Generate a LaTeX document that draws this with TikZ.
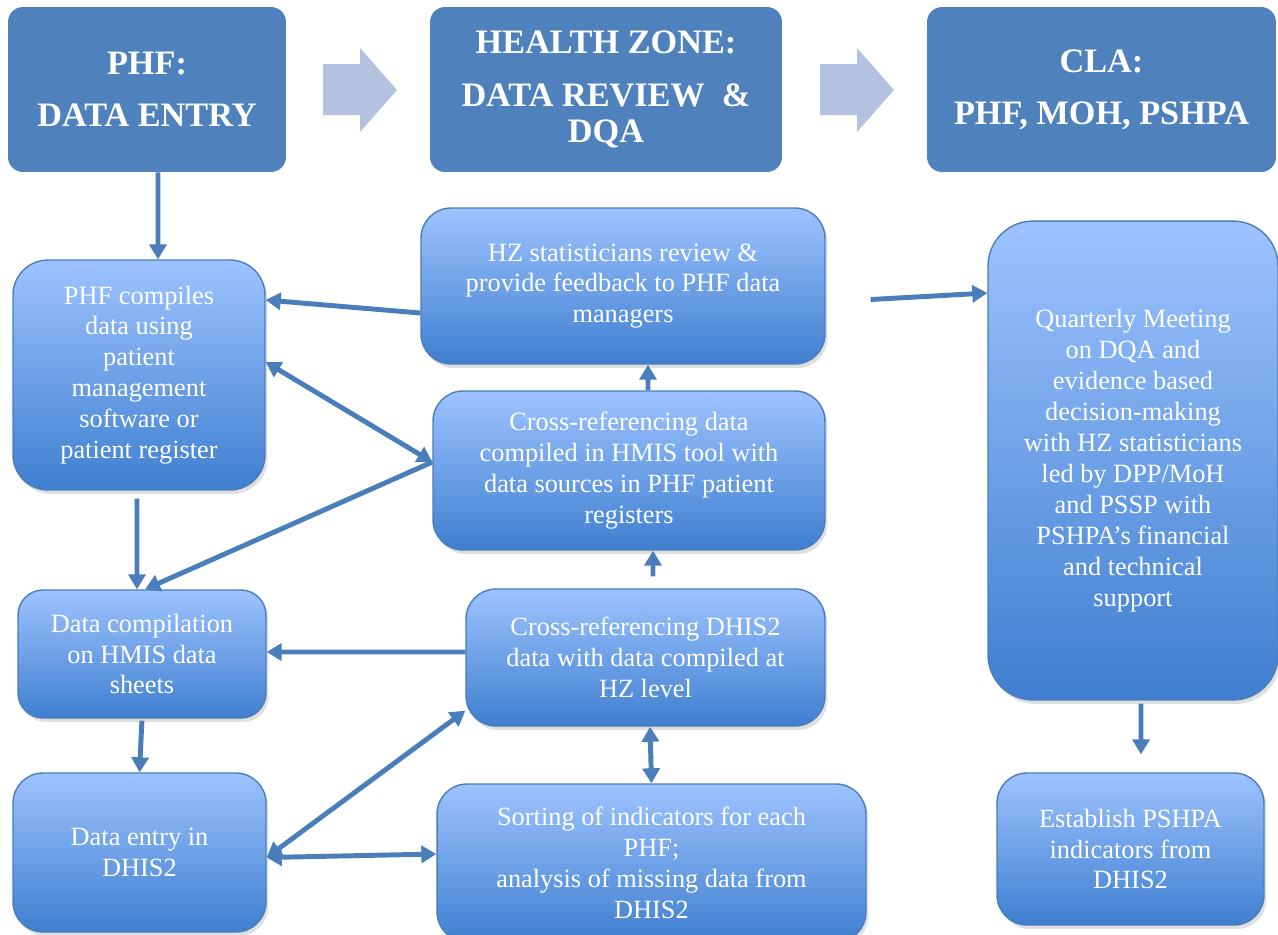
\documentclass[tikz,border=0pt]{standalone}
\usepackage{fontspec}
\setmainfont{Liberation Serif}
\usetikzlibrary{positioning,calc,arrows.meta,shadows}
\definecolor{HeadBlue}{HTML}{4F81BD}
\definecolor{ChevBlue}{HTML}{B3C3DF}
\definecolor{BoxTop}{HTML}{9DC3FF}
\definecolor{BoxBottom}{HTML}{3F7FCF}
\definecolor{BoxLine}{HTML}{4A7EBB}
\definecolor{LinkBlue}{HTML}{4A7EBB}

\begin{document}
\begin{tikzpicture}[x=0.02cm,y=-0.02cm,
    headbox/.style={rounded corners=0.3cm, fill=HeadBlue, text=white, align=center,
      font=\fontsize{19.5}{20.5}\selectfont\bfseries, minimum height=3.3cm},
    stepbox/.style={rounded corners=0.6cm, draw=BoxLine, line width=0.8pt,
      top color=BoxTop, bottom color=BoxBottom, text=white, align=center,
      font=\fontsize{15}{17.6}\selectfont,
      drop shadow={shadow xshift=0.05cm, shadow yshift=-0.08cm, opacity=0.25}},
    link/.style={LinkBlue, line width=2.8pt, -{Triangle[length=0.3cm,width=0.34cm]}},
    twoway/.style={link, {Triangle[length=0.3cm,width=0.34cm]}-{Triangle[length=0.3cm,width=0.34cm]}}
  ]
  \useasboundingbox[fill=white] (0,0) rectangle (1278,934);

  % Header row
  \node[headbox, minimum width=5.56cm] (phf) at (147,89.5) {PHF:\\[9pt]DATA ENTRY};
  \node[headbox, minimum width=7.04cm] (zone) at (606,89.5) {HEALTH ZONE:\\[9.5pt]DATA REVIEW\ \ \&\\DQA};
  \node[headbox, minimum width=6.98cm] (cla) at (1101.5,89.5) {CLA:\\[9pt]PHF, MOH, PSHPA};

  % Block arrows between headers
  \foreach \dx in {0,497}
    \fill[ChevBlue] (323+\dx,64) -- (360+\dx,64) -- (360+\dx,48) -- (397+\dx,90)
      -- (360+\dx,132) -- (360+\dx,115) -- (323+\dx,115) -- cycle;

  % PHF column
  \node[stepbox, rounded corners=0.7cm, minimum width=5.04cm, minimum height=4.6cm] (compile) at (139,375)
    {PHF compiles\\data using\\patient\\management\\software or\\patient register};
  \node[stepbox, rounded corners=0.5cm, minimum width=4.96cm, minimum height=2.56cm] (sheets) at (142,654)
    {Data compilation\\on HMIS data\\sheets};
  \node[stepbox, minimum width=5.06cm, minimum height=3.18cm] (entry) at (139.5,852.5)
    {Data entry in\\DHIS2};

  % Health zone column
  \node[stepbox, minimum width=8.08cm, minimum height=3.12cm] (review) at (623,286)
    {HZ statisticians review \&\\provide feedback to PHF data\\managers};
  \node[stepbox, minimum width=7.84cm, minimum height=3.18cm] (crossref) at (629,470.5)
    {Cross-referencing data\\compiled in HMIS tool with\\data sources in PHF patient\\registers};
  \node[stepbox, minimum width=7.18cm, minimum height=2.74cm] (dhiscross) at (645.5,657.5)
    {Cross-referencing DHIS2\\data with data compiled at\\HZ level};
  \node[stepbox, minimum width=8.58cm, minimum height=3.16cm] (sorting) at (651.5,863)
    {Sorting of indicators for each\\PHF;\\analysis of missing data from\\DHIS2};

  % CLA column
  \node[stepbox, rounded corners=0.9cm, minimum width=5.8cm, minimum height=9.58cm] (meeting) at (1133,460.5)
    {Quarterly Meeting\\on DQA and\\evidence based\\decision-making\\with HZ statisticians\\led by DPP/MoH\\and PSSP with\\PSHPA’s financial\\and technical\\support};
  \node[stepbox, minimum width=5.34cm, minimum height=3.04cm] (establish) at (1130.5,849)
    {Establish PSHPA\\indicators from\\DHIS2};

  % Connectors
  \draw[link] ([xshift=.22cm]phf.south) -- ([xshift=.38cm]compile.north);
  \draw[link] ([yshift=-.54cm]review.west) -- ([yshift=1.5cm]compile.east);
  \draw[twoway] ([yshift=.26cm]compile.east) -- ([yshift=.17cm]crossref.west);
  \draw[link] ([yshift=.17cm]crossref.west) -- ([xshift=.06cm]sheets.north);
  \draw[link, shorten <=0.16cm] ([xshift=-.04cm]compile.south) -- ([xshift=-.1cm]sheets.north);
  \draw[link] ([yshift=.11cm]dhiscross.west) -- ([yshift=.04cm]sheets.east);
  \draw[link, shorten <=0.04cm] (sheets.south) -- (entry.north);
  \draw[twoway] ([yshift=-.1cm]entry.east) -- ([yshift=.32cm]dhiscross.south west);
  \draw[twoway] ([yshift=-.1cm]entry.east) -- ([yshift=.18cm]sorting.west);
  \draw[twoway] ([xshift=.09cm]dhiscross.south) -- (sorting.north);
  \draw[link, shorten <=0.24cm] ([xshift=.15cm]dhiscross.north) -- ([xshift=.48cm]crossref.south);
  \draw[link] ([xshift=.38cm]crossref.north) -- ([xshift=.5cm]review.south);
  \draw[link, shorten <=0.9cm] ([yshift=-.32cm]review.east) -- ([yshift=3.35cm]meeting.west);
  \draw[link, shorten <=0.06cm, shorten >=0.36cm] ([xshift=.16cm]meeting.south) -- ([xshift=.21cm]establish.north);
\end{tikzpicture}
\end{document}
